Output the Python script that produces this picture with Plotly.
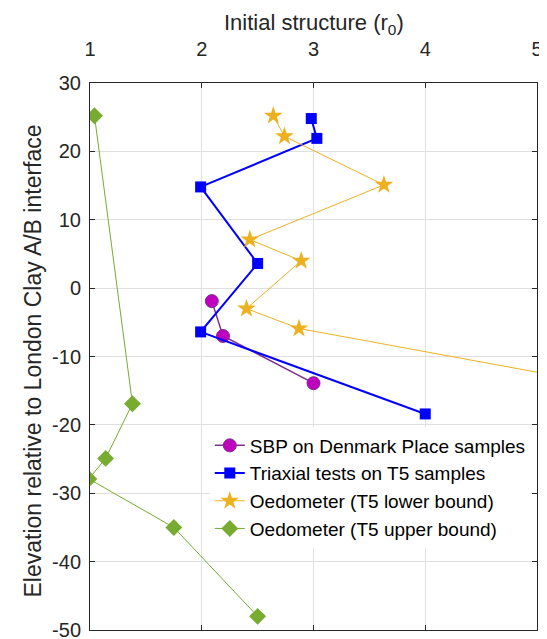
import plotly.graph_objects as go

# Data
sbp_x = [2.09, 2.19, 3.00]
sbp_y = [-1.9, -7.0, -13.9]

tri_x = [2.98, 3.03, 1.99, 2.50, 1.99, 4.00]
tri_y = [24.8, 21.9, 14.8, 3.6, -6.4, -18.4]

oed_lo_x = [2.64, 2.74, 3.63, 2.43, 2.89, 2.40, 2.87, 5.60]
oed_lo_y = [25.2, 22.2, 15.1, 7.1, 4.0, -3.0, -5.9, -14.1]

oed_up_x = [1.04, 1.38, 1.14, 0.99, 1.75, 2.50]
oed_up_y = [25.2, -16.9, -24.9, -27.9, -35.0, -48.0]

x_ticks = [1, 2, 3, 4, 5]
x_tick_labels = ["1", "2", "3", "4", "5"]
y_ticks = [-50, -40, -30, -20, -10, 0, 10, 20, 30]
y_tick_labels = ["-50", "-40", "-30", "-20", "-10", "0", "10", "20", "30"]

x_title = "Initial structure (r<sub>0</sub>)"
y_title = "Elevation relative to London Clay A/B interface"

FONT = "Liberation Sans, Arial, sans-serif"
TXT = "#262626"

fig = go.Figure()
fig.add_trace(go.Scatter(
    x=sbp_x, y=sbp_y, mode="lines+markers", name="SBP on Denmark Place samples",
    line=dict(color="#7E2F8E", width=1.5),
    marker=dict(symbol="circle", size=13, color="#BF00BF", line=dict(color="#7E2F8E", width=1)),
))
fig.add_trace(go.Scatter(
    x=tri_x, y=tri_y, mode="lines+markers", name="Triaxial tests on T5 samples",
    line=dict(color="#0000FF", width=2),
    marker=dict(symbol="square", size=11, color="#0000FF"),
))
fig.add_trace(go.Scatter(
    x=oed_lo_x, y=oed_lo_y, mode="lines+markers", name="Oedometer (T5 lower bound)",
    line=dict(color="#EDB120", width=1),
    marker=dict(symbol="star", size=14, color="#EDB120"),
))
fig.add_trace(go.Scatter(
    x=oed_up_x, y=oed_up_y, mode="lines+markers", name="Oedometer (T5 upper bound)",
    line=dict(color="#77AC30", width=1),
    marker=dict(symbol="diamond", size=13, color="#77AC30"),
))

axis_common = dict(
    showline=True, linecolor=TXT, linewidth=1, mirror="ticks",
    ticks="inside", ticklen=5, tickcolor=TXT,
    showgrid=True, gridcolor="#DFDFDF", gridwidth=1, zeroline=False,
    tickfont=dict(family=FONT, size=20, color=TXT),
    automargin=False, ticklabeloverflow="allow",
)

fig.update_xaxes(range=[1, 5], tickvals=x_ticks, ticktext=x_tick_labels, side="top",
                 ticklabelstandoff=18, **axis_common)
fig.update_yaxes(range=[-50, 30], tickvals=y_ticks, ticktext=y_tick_labels,
                 ticklabelstandoff=4, **axis_common)

fig.add_annotation(text=x_title, xref="paper", yref="paper", x=0.5, y=1, yshift=59,
                   xanchor="center", yanchor="middle", showarrow=False,
                   font=dict(family=FONT, size=22, color=TXT))
fig.add_annotation(text=y_title, xref="paper", yref="paper", x=0, y=0.5, xshift=-58, yshift=-5,
                   xanchor="center", yanchor="middle", textangle=-90, showarrow=False,
                   font=dict(family=FONT, size=23, color=TXT))

# page body has an 8px margin: figure is offset by (8, 8) in the window
fig.update_layout(
    width=539, height=631,
    margin=dict(l=82, r=10, t=75, b=9),
    paper_bgcolor="white", plot_bgcolor="white",
    font=dict(family=FONT, color=TXT),
    legend=dict(
        x=0.268, y=0.372, xanchor="left", yanchor="top",
        bgcolor="white", borderwidth=0,
        font=dict(family=FONT, size=19, color="#000000"),
        tracegroupgap=0, itemwidth=30,
    ),
    showlegend=True,
)

fig.write_html("out.html")
